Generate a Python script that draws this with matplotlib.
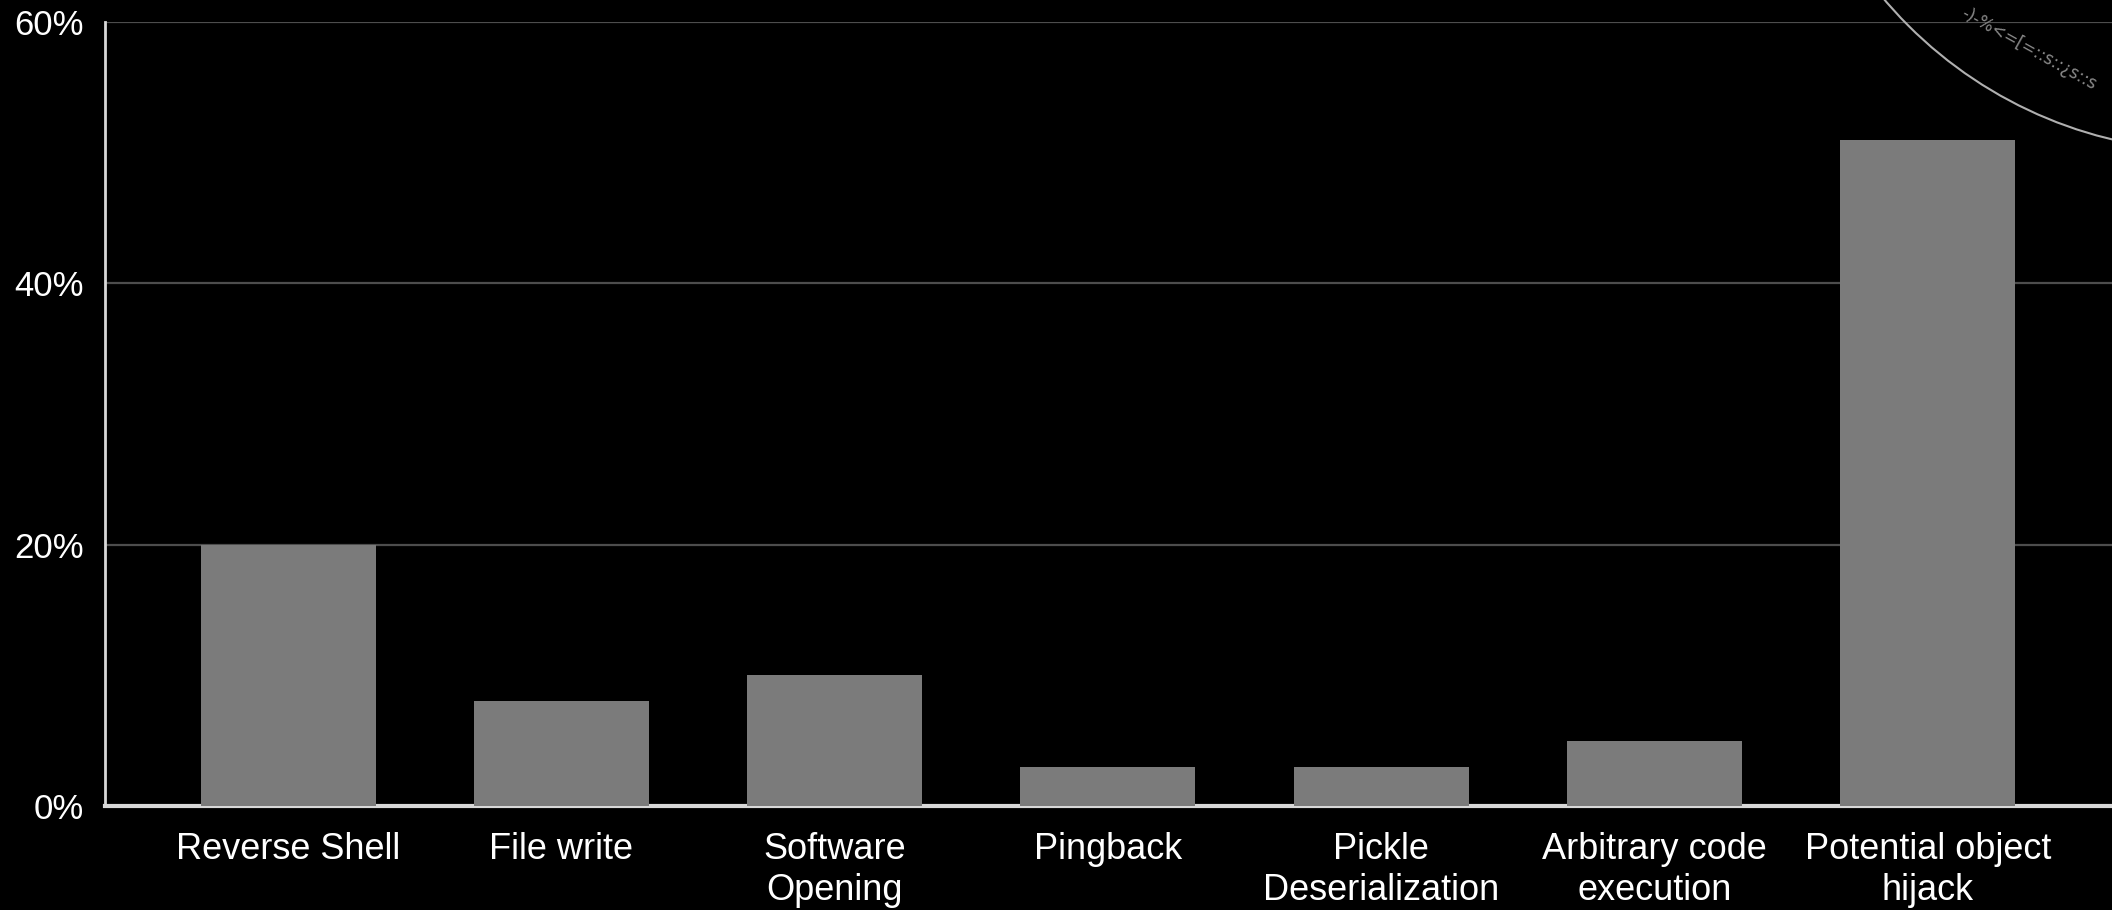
import matplotlib.pyplot as plt
from matplotlib.patches import Ellipse
from matplotlib.ticker import FuncFormatter

categories = ["Reverse Shell", "File write", "Software\nOpening", "Pingback",
              "Pickle\nDeserialization", "Arbitrary code\nexecution",
              "Potential object\nhijack"]
values = [20, 8, 10, 3, 3, 5, 51]
yticks = [0, 20, 40, 60]

plt.rcParams['font.family'] = ['Liberation Sans', 'DejaVu Sans']

fig = plt.figure(figsize=(21.12, 9.10), dpi=100, facecolor='black')
ax = fig.add_axes([0.0497, 0.1143, 0.9503, 0.8615])
ax.set_facecolor('black')

x = list(range(len(categories)))
ax.bar(x, values, width=0.64, color='#7b7b7b', zorder=3)

ax.set_xlim(-0.67, 6.674)
ax.set_ylim(0, 60)
ax.set_yticks(yticks)
ax.yaxis.set_major_formatter(FuncFormatter(lambda v, p: f"{v:.0f}%"))
ax.set_xticks(x)
ax.set_xticklabels(categories, linespacing=1.2)

ax.tick_params(axis='both', length=0, colors='white')
ax.tick_params(axis='x', pad=19, labelsize=26)
ax.tick_params(axis='y', pad=15, labelsize=25)

ax.grid(axis='y', color='#4d4d4d', linewidth=1.6)
ax.set_axisbelow(True)

for s in ['top', 'right']:
    ax.spines[s].set_visible(False)
ax.spines['left'].set_color('#d8d8d8')
ax.spines['left'].set_linewidth(2)
ax.spines['bottom'].set_color('#d8d8d8')
ax.spines['bottom'].set_linewidth(3)

# slide decoration: arc in the upper right corner
arc = Ellipse((2211 / 2112, 1 + 277 / 910), 2 * 428 / 2112, 2 * 428 / 910,
              transform=fig.transFigure, fill=False, edgecolor='#b0b0b0',
              linewidth=1.5, zorder=0)
fig.patches.append(arc)
fig.text(1967 / 2112, 1 - 4 / 910, "-)-%<=[=::s::¿s::s", color='#8a8a8a',
         fontsize=12, rotation=-29, rotation_mode='anchor',
         ha='left', va='top', family='DejaVu Sans')

plt.savefig('out.png', dpi=100, facecolor='black')
